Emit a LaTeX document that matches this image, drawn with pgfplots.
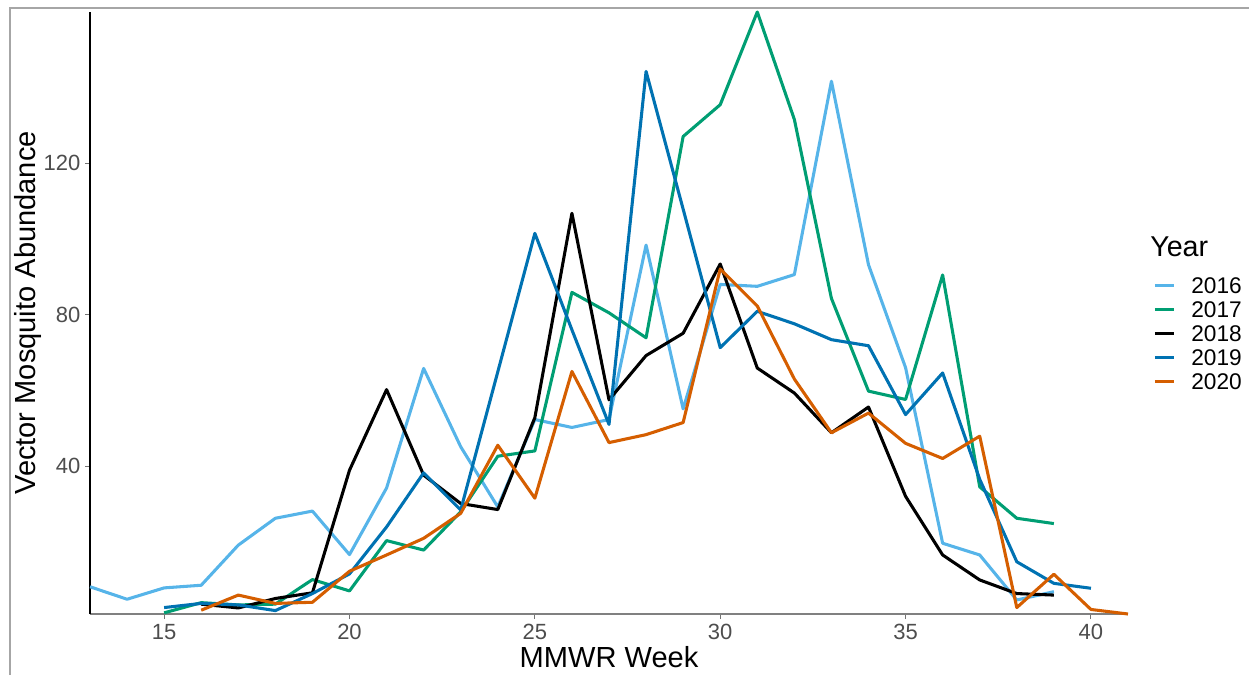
\documentclass[border=0pt]{standalone}
\usepackage{pgfplots}
\pgfplotsset{compat=1.18}
\usepackage{fontspec}
\setmainfont{Liberation Sans}
\definecolor{c16}{HTML}{56B4E9}
\definecolor{c17}{HTML}{009E73}
\definecolor{c18}{HTML}{000000}
\definecolor{c19}{HTML}{0072B2}
\definecolor{c20}{HTML}{D55E00}
\definecolor{tickgray}{HTML}{4D4D4D}
\begin{document}
\begin{tikzpicture}
\useasboundingbox (0,0) rectangle (936.75pt,506.25pt);
\draw[black!35, line width=0.9pt] (7.5pt,0pt) -- (7.5pt,500.25pt) -- (936.75pt,500.25pt);
\begin{axis}[
  at={(67.5pt,45.75pt)}, anchor=south west,
  scale only axis, width=778.5pt, height=451.5pt,
  xmin=13, xmax=41, ymin=0.9, ymax=160,
  clip=false,
  axis x line=bottom, axis y line=left,
  axis line style={-},
  x axis line style={draw=black!50, line width=1.3pt},
  y axis line style={draw=black, line width=0.8pt},
  xtick={15,20,25,30,35,40}, ytick={40,80,120},
  tick align=outside, major tick length=3.75pt,
  tick style={draw=black!55, line width=0.8pt},
  /pgf/number format/assume math mode=true,
  ticklabel style={font=\fontsize{16.5}{19}\selectfont, text=tickgray},
  xticklabel style={yshift=-0.5pt},
  xlabel={MMWR Week}, ylabel={Vector Mosquito Abundance},
  every axis x label/.style={at={(axis description cs:0.5,0)}, anchor=base, yshift=-39.75pt, font=\fontsize{21.8}{26}\selectfont},
  every axis y label/.style={at={(axis description cs:0,0.5)}, xshift=-40.5pt, rotate=90, anchor=base, font=\fontsize{21.8}{26}\selectfont},
  legend cell align=left,
  legend image code/.code={\draw[#1] (0pt,0pt) -- (14.25pt,0pt);},
  legend style={at={(1.0241,0.5598)}, anchor=north west, draw=none, fill=none, inner sep=0pt,
    font=\fontsize{17}{20}\selectfont, row sep=5.8pt, column sep=12pt,
    nodes={inner sep=0pt, text height=12.2pt, text depth=0pt}},
  every axis plot/.append style={line width=2.3pt, line join=round},
]
\addplot[c16] coordinates {(13,8.1)(14,4.8)(15,7.8)(16,8.5)(17,19.1)(18,26.2)(19,28.1)(20,16.6)(21,34.2)(22,65.8)(23,45.1)(24,29.2)(25,52.3)(26,50.2)(27,52.3)(28,98.4)(29,55.1)(30,88.0)(31,87.5)(32,90.6)(33,141.7)(34,93.2)(35,66)(36,19.6)(37,16.5)(38,4.6)(39,6.8)};
\addlegendentry{2016}
\addplot[c17] coordinates {(15,1.2)(16,3.9)(17,3.3)(18,3.5)(19,10.0)(20,7.0)(21,20.3)(22,17.8)(23,27.9)(24,42.6)(25,44.0)(26,85.9)(27,80.5)(28,73.9)(29,127.1)(30,135.5)(31,160)(32,131.6)(33,84.3)(34,59.8)(35,57.6)(36,90.5)(37,34.5)(38,26.2)(39,24.8)};
\addlegendentry{2017}
\addplot[c18] coordinates {(16,3.5)(17,2.5)(18,5.0)(19,6.5)(20,38.9)(21,60.2)(22,37.6)(23,30.1)(24,28.5)(25,52.8)(26,106.8)(27,57.5)(28,69.2)(29,75.1)(30,93.4)(31,65.9)(32,59.3)(33,48.8)(34,55.6)(35,32.0)(36,16.5)(37,9.9)(38,6.3)(39,5.9)};
\addlegendentry{2018}
\addplot[c19] coordinates {(15,2.6)(16,3.7)(17,3.3)(18,1.8)(19,6.3)(20,11.5)(21,23.9)(22,38.2)(23,28.4)(24,64.9)(25,101.5)(26,76)(27,51.0)(28,144.3)(29,107.9)(30,71.3)(31,80.9)(32,77.6)(33,73.4)(34,71.8)(35,53.6)(36,64.6)(37,36.5)(38,14.7)(39,9.0)(40,7.7)};
\addlegendentry{2019}
\addplot[c20] coordinates {(16,1.9)(17,5.9)(18,3.7)(19,4.0)(20,12.2)(21,16.5)(22,20.9)(23,27.5)(24,45.5)(25,31.5)(26,65.0)(27,46.2)(28,48.3)(29,51.5)(30,92.1)(31,82.3)(32,63.0)(33,48.8)(34,54.0)(35,46.0)(36,42.0)(37,47.9)(38,2.6)(39,11.4)(40,2.1)(41,0.9)};
\addlegendentry{2020}
\end{axis}
\node[anchor=base west, inner sep=0pt, font=\fontsize{21.5}{25}\selectfont] at (862.5pt,313.5pt) {Year};
\end{tikzpicture}
\end{document}
